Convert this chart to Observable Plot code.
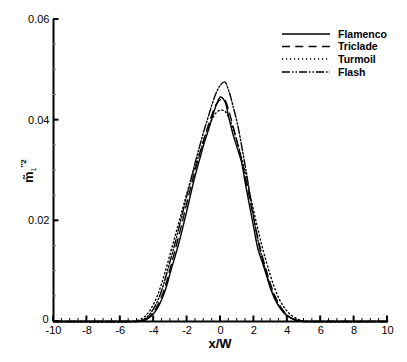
<!DOCTYPE html>
<html><head><meta charset="utf-8">
<script src="https://cdn.jsdelivr.net/npm/d3@7"></script>
<script src="https://cdn.jsdelivr.net/npm/@observablehq/plot@0.6"></script>
<style>body{margin:0;background:#fff;} #chart svg{display:block;}</style>
</head><body><div id="chart"></div>
<script>
const xGrid = [-10, -5.25, -5, -4.75, -4.5, -4.25, -4, -3.75, -3.5, -3.25, -3, -2.75, -2.5, -2.25, -2, -1.75, -1.5, -1.25, -1, -0.75, -0.5, -0.25, 0, 0.25, 0.5, 0.75, 1, 1.25, 1.5, 1.75, 2, 2.25, 2.5, 2.75, 3, 3.25, 3.5, 3.75, 4, 4.25, 4.5, 4.75, 5, 5.25, 10];
const flamenco = [0, 0, 0, 0.0001, 0.0003, 0.0008, 0.0016, 0.0028, 0.0045, 0.0068, 0.0098, 0.0126, 0.0155, 0.0188, 0.0222, 0.0258, 0.0292, 0.0322, 0.0352, 0.0378, 0.0405, 0.0430, 0.0446, 0.0438, 0.0405, 0.0372, 0.0345, 0.0318, 0.0272, 0.0228, 0.0185, 0.0143, 0.0118, 0.0092, 0.0065, 0.0045, 0.0030, 0.0019, 0.0011, 0.0006, 0.0003, 0.0001, 0, 0, 0];
const triclade = [0, 0, 0, 0.0001, 0.0004, 0.0010, 0.0019, 0.0033, 0.0052, 0.0077, 0.0107, 0.0138, 0.0170, 0.0203, 0.0237, 0.0271, 0.0303, 0.0333, 0.0362, 0.0388, 0.0412, 0.0432, 0.0441, 0.0440, 0.0418, 0.0388, 0.0357, 0.0322, 0.0284, 0.0244, 0.0203, 0.0163, 0.0130, 0.0101, 0.0074, 0.0052, 0.0035, 0.0022, 0.0013, 0.0007, 0.0003, 0.0001, 0, 0, 0];
const turmoil = [0, 0, 0.0002, 0.0005, 0.0011, 0.0021, 0.0035, 0.0054, 0.0078, 0.0106, 0.0136, 0.0166, 0.0196, 0.0226, 0.0256, 0.0284, 0.0310, 0.0335, 0.0358, 0.0382, 0.0402, 0.0415, 0.0420, 0.0418, 0.0405, 0.0383, 0.0357, 0.0327, 0.0292, 0.0255, 0.0218, 0.0182, 0.0148, 0.0118, 0.0090, 0.0066, 0.0046, 0.0031, 0.0020, 0.0012, 0.0007, 0.0003, 0.0001, 0, 0];
const flash = [0, 0, 0, 0.0002, 0.0006, 0.0014, 0.0026, 0.0042, 0.0064, 0.0092, 0.0122, 0.0152, 0.0185, 0.0218, 0.0252, 0.0285, 0.0318, 0.0348, 0.0378, 0.0405, 0.0432, 0.0455, 0.0470, 0.0476, 0.0458, 0.0428, 0.0395, 0.0352, 0.0305, 0.0255, 0.0205, 0.0160, 0.0125, 0.0095, 0.0068, 0.0047, 0.0031, 0.0020, 0.0012, 0.0006, 0.0003, 0.0001, 0, 0, 0];

const seriesNames = ["Flamenco", "Triclade", "Turmoil", "Flash"];
const seriesValues = [flamenco, triclade, turmoil, flash];
const seriesDash = [null, "8,5.3", "1.2,2.8", "8,2,1.5,2,1.5,2"];

const xMajor = [-10, -8, -6, -4, -2, 0, 2, 4, 6, 8, 10];
const xMajorLabels = ["-10", "-8", "-6", "-4", "-2", "0", "2", "4", "6", "8", "10"];
const yMajor = [0, 0.02, 0.04, 0.06];
const yMajorLabels = ["0", "0.02", "0.04", "0.06"];
const xMinor = d3.range(-10, 10.001, 0.5);
const yMinor = d3.range(0, 0.06001, 0.005);

const rows = seriesNames.flatMap((name, i) => xGrid.map((x, j) => ({series: name, x, y: seriesValues[i][j]})));

const xLo = xMajor[0], yLo = yMajor[0];

const chart = Plot.plot({
  width: 407, height: 362,
  marginLeft: 53, marginRight: 20, marginTop: 19, marginBottom: 41,
  style: {fontFamily: "'Liberation Sans', Arial, sans-serif", fontSize: "11px", background: "#fff", color: "#000"},
  x: {domain: [-10, 10]},
  y: {domain: [0, 0.06]},
  marks: [
    ...seriesNames.map((name, i) => Plot.line(rows.filter(r => r.series === name), {
      x: "x", y: "y", stroke: "#000", strokeWidth: 1.4, strokeDasharray: seriesDash[i], curve: "catmull-rom"
    })),
    Plot.axisX({ticks: xMajor, tickSize: 0, tickPadding: 5, tickFormat: d => xMajorLabels[xMajor.indexOf(d)], label: null}),
    Plot.axisY({ticks: yMajor.slice(1), tickSize: 0, tickPadding: 4, tickFormat: d => yMajorLabels[yMajor.indexOf(d)], label: null}),
    Plot.axisY({ticks: yMajor.slice(0, 1), tickSize: 0, tickPadding: 5, dy: -2, tickFormat: d => yMajorLabels[yMajor.indexOf(d)], label: null}),
    Plot.ruleX([xLo], {strokeWidth: 2}),
    Plot.ruleY([yLo], {strokeWidth: 2})
  ]
});
document.getElementById("chart").append(chart);

const svg = d3.select(chart);
const sx = chart.scale("x"), sy = chart.scale("y");
const x0 = sx.apply(xLo), y0 = sy.apply(yLo);
// inward ticks, positioned with Plot's own scales
const tk = svg.append("g").attr("fill", "none");
xMinor.forEach(v => tk.append("line").attr("x1", sx.apply(v)).attr("x2", sx.apply(v)).attr("y1", y0).attr("y2", y0 - 3).attr("stroke", "#000").attr("stroke-width", 1));
xMajor.forEach(v => tk.append("line").attr("x1", sx.apply(v)).attr("x2", sx.apply(v)).attr("y1", y0).attr("y2", y0 - 5.5).attr("stroke", "#000").attr("stroke-width", 2));
yMinor.forEach(v => tk.append("line").attr("y1", sy.apply(v)).attr("y2", sy.apply(v)).attr("x1", x0).attr("x2", x0 + 3).attr("stroke", "#777").attr("stroke-width", 1));
yMajor.forEach(v => tk.append("line").attr("y1", sy.apply(v)).attr("y2", sy.apply(v)).attr("x1", x0).attr("x2", x0 + 5.5).attr("stroke", "#000").attr("stroke-width", 2));

const FONT = "'Liberation Sans', Arial, sans-serif";
// x-axis title
svg.append("text").attr("x", 220).attr("y", 347.5).attr("text-anchor", "middle")
  .attr("font-family", FONT).attr("font-weight", "bold").attr("font-size", 13)
  .text("x/W");
// y-axis title
const yt = svg.append("text").attr("transform", "translate(32.5,183) rotate(-90)").attr("text-anchor", "start")
  .attr("font-family", FONT).attr("font-weight", "bold").attr("font-size", 13);
yt.append("tspan").text("m\u0303");
yt.append("tspan").attr("dy", 3).attr("font-size", 7).attr("font-weight", "normal").text("1");
yt.append("tspan").attr("dy", -10).attr("font-size", 8).text("\u20332");
// legend
const lg = svg.append("g").attr("font-family", FONT).attr("font-weight", "bold").attr("font-size", 10.5).attr("text-anchor", "start");
const legendY = [34, 46.5, 59, 72];
seriesNames.forEach((name, i) => {
  lg.append("line").attr("x1", 282).attr("x2", 330).attr("y1", legendY[i]).attr("y2", legendY[i])
    .attr("stroke", "#000").attr("stroke-width", 1.4).attr("stroke-dasharray", seriesDash[i]);
  lg.append("text").attr("x", 338).attr("y", legendY[i]).attr("dy", "0.35em").text(name);
});
</script>
</body></html>
